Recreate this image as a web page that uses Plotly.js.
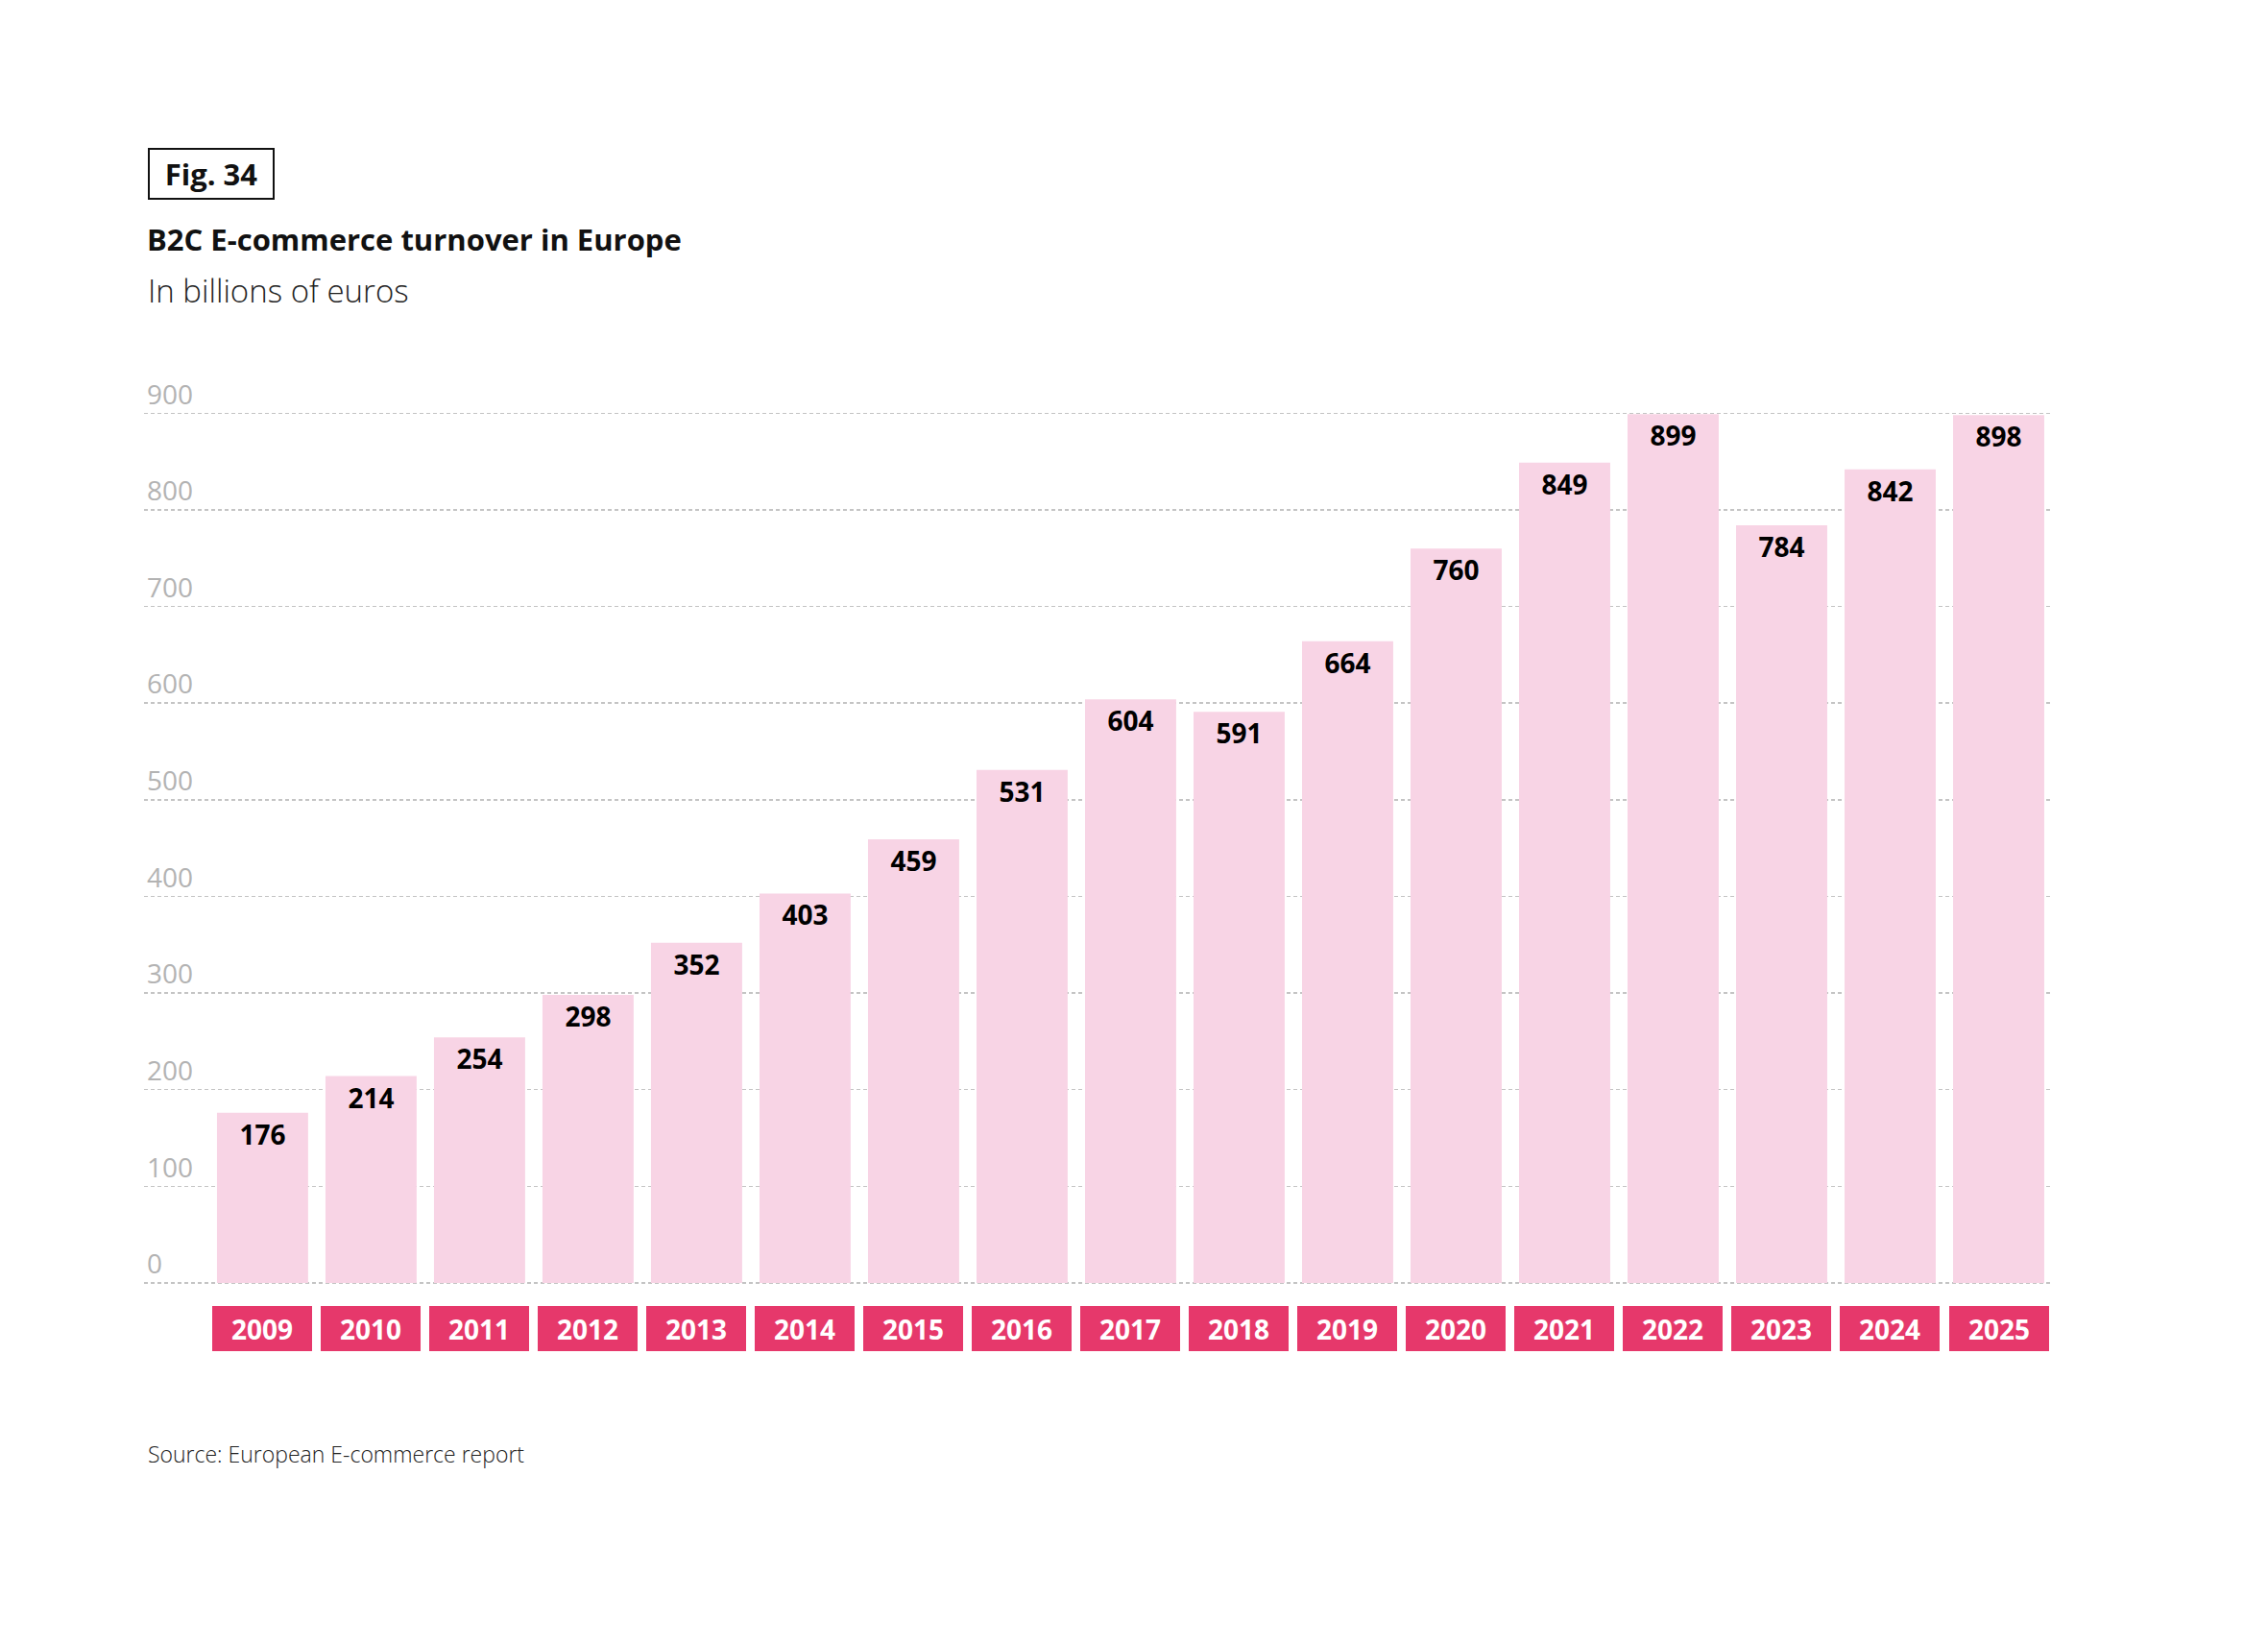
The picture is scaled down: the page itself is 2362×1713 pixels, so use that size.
<!DOCTYPE html>
<html>
<head>
<meta charset="utf-8">
<script src="https://cdn.plot.ly/plotly-3.0.1.min.js"></script>
<style>
html,body{margin:0;padding:0;background:#fff;}
#chart{width:2362px;height:1713px;}
</style>
</head>
<body>
<div id="chart"></div>
<script>
const years = ['2009','2010','2011','2012','2013','2014','2015','2016','2017','2018','2019','2020','2021','2022','2023','2024','2025'];
const turnover = [176, 214, 254, 298, 352, 403, 459, 531, 604, 591, 664, 760, 849, 899, 784, 842, 898];
const yTicks = [0, 100, 200, 300, 400, 500, 600, 700, 800, 900];

const figLabel = 'Fig. 34';
const titleText = 'B2C E-commerce turnover in Europe';
const subtitleText = 'In billions of euros';
const sourceText = 'Source: European E-commerce report';

const FONT = '"Open Sans", "Noto Sans", sans-serif';
const W = 2362, H = 1713;
const K = 906 / 900;               // px per unit
const yMin = -6, yMax = 950;
const zeroPx = 1336;
const plotL = 150, plotR = 2138;
const plotT = Math.round(zeroPx - yMax * K);
const plotB = Math.round(zeroPx - yMin * K);
const ph = plotB - plotT;
const py = v => (plotB - v) / ph;
const pxp = v => (v - plotL) / (plotR - plotL);

const trace = {
  type: 'bar',
  x: years,
  y: turnover,
  marker: {color: '#f8d4e5', line: {width: 0}},
  text: turnover.map(String),
  textposition: 'inside',
  insidetextanchor: 'end',
  textangle: 0,
  constraintext: 'none',
  insidetextfont: {family: FONT, size: 28, color: '#000000', weight: 700},
  hoverinfo: 'x+y',
  cliponaxis: false
};

const annotations = [];
years.forEach((y, i) => {
  annotations.push({
    xref: 'x', yref: 'y', x: i, y: 0,
    xanchor: 'center', yanchor: 'top', yshift: -24,
    text: '<b>' + y + '</b>', showarrow: false,
    width: 104, height: 47, borderpad: 0, borderwidth: 0,
    bgcolor: '#e6386b', align: 'center', valign: 'middle',
    font: {family: FONT, size: 28, color: '#ffffff'}
  });
});
annotations.push({
  xref: 'paper', yref: 'paper', x: pxp(154), y: py(181),
  xanchor: 'left', yanchor: 'middle', showarrow: false,
  text: '<b>' + figLabel + '</b>',
  width: 128, height: 50, borderpad: 0, borderwidth: 2, bordercolor: '#111111',
  align: 'center', valign: 'middle',
  font: {family: FONT, size: 31, color: '#111111'}
});
annotations.push({
  xref: 'paper', yref: 'paper', x: pxp(152), y: py(303),
  xanchor: 'left', yanchor: 'middle', showarrow: false,
  text: subtitleText,
  font: {family: FONT, size: 33, color: '#222222', weight: 300}
});
annotations.push({
  xref: 'paper', yref: 'paper', x: pxp(152), y: py(1514),
  xanchor: 'left', yanchor: 'middle', showarrow: false,
  text: sourceText,
  font: {family: FONT, size: 23, color: '#222222', weight: 300}
});

const layout = {
  width: W, height: H,
  paper_bgcolor: '#ffffff', plot_bgcolor: '#ffffff',
  margin: {l: plotL, r: W - plotR, t: plotT, b: H - plotB, pad: 0},
  showlegend: false,
  bargap: 0.16,
  title: {
    text: '<b>' + titleText + '</b>',
    xref: 'container', yref: 'container',
    x: 153 / W, xanchor: 'left',
    y: 1 - 250 / H, yanchor: 'middle',
    font: {family: FONT, size: 31, color: '#111111'}
  },
  xaxis: {
    type: 'category',
    range: [-1.092, 16.5],
    showticklabels: false, showgrid: false, zeroline: false, showline: false,
    ticks: '', fixedrange: true
  },
  yaxis: {
    range: [yMin, yMax],
    tickvals: yTicks,
    ticktext: yTicks.map(String),
    ticklabelposition: 'inside top',
    ticks: '',
    showgrid: true, gridcolor: '#c4c4c4', gridwidth: 1.5, griddash: '4px,3px',
    zeroline: false, showline: false,
    tickfont: {family: FONT, size: 28, color: '#b3b3b3'},
    fixedrange: true
  },
  annotations: annotations
};

Plotly.newPlot('chart', [trace], layout, {displayModeBar: false, staticPlot: true});
</script>
</body>
</html>
